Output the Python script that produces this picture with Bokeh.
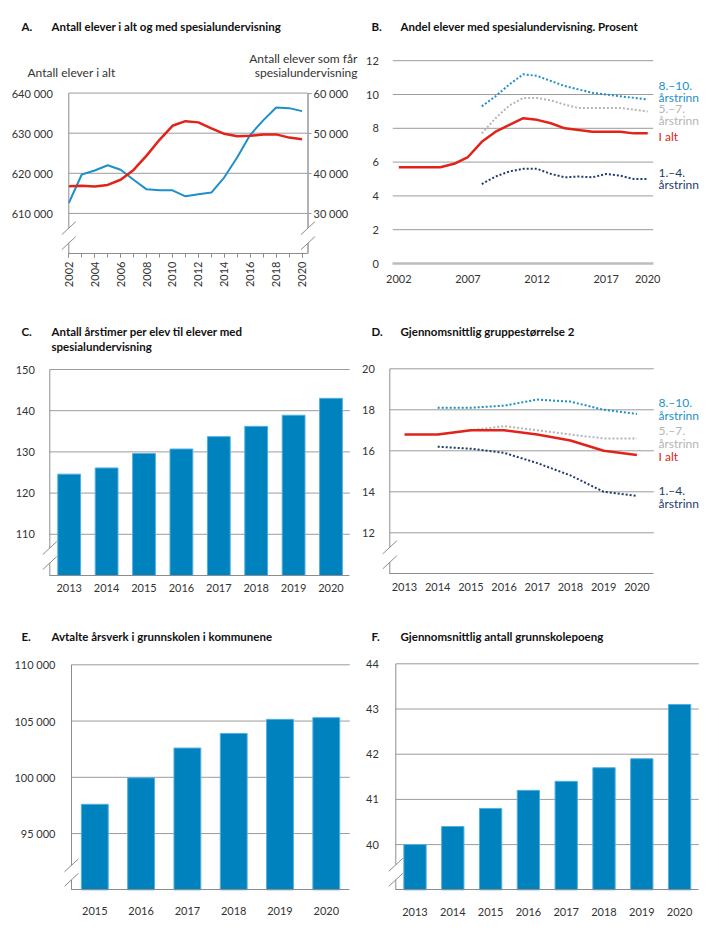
import math
from bokeh.plotting import figure
from bokeh.models import Range1d, LinearAxis, FixedTicker, Label
from bokeh.layouts import column, row
from bokeh.embed import file_html
from bokeh.resources import INLINE

# ---------------- DATA ----------------
# A. Antall elever i alt og med spesialundervisning
years_a = list(range(2002, 2021))
elever_i_alt = [612600, 619700, 620700, 622000, 620900, 618400, 616000, 615750, 615750, 614250,
                614750, 615200, 619000, 624000, 629600, 633200, 636400, 636250, 635500]
elever_spes = [36750, 36900, 36700, 37100, 38400, 40850, 44400, 48350, 51850, 53000,
               52700, 51200, 49850, 49250, 49350, 49700, 49700, 48900, 48500]
a_left_ticks = [610000, 620000, 630000, 640000]
a_left_labels = ["610 000", "620 000", "630 000", "640 000"]
a_right_ticks = [30000, 40000, 50000, 60000]
a_right_labels = ["30 000", "40 000", "50 000", "60 000"]
a_year_labels = list(range(2002, 2021, 2))

# B. Andel elever med spesialundervisning. Prosent
years_b = list(range(2002, 2021))
andel_i_alt = [5.7, 5.7, 5.7, 5.7, 5.9, 6.3, 7.2, 7.8, 8.2, 8.6, 8.5, 8.3, 8.0, 7.9, 7.8, 7.8, 7.8, 7.7, 7.7]
years_b_trinn = list(range(2008, 2021))
andel_8_10 = [9.3, 9.9, 10.6, 11.2, 11.1, 10.8, 10.5, 10.3, 10.1, 10.0, 9.9, 9.8, 9.7]
andel_5_7 = [7.7, 8.6, 9.35, 9.8, 9.8, 9.65, 9.4, 9.2, 9.2, 9.2, 9.2, 9.1, 9.0]
andel_1_4 = [4.7, 5.15, 5.45, 5.6, 5.6, 5.3, 5.1, 5.15, 5.1, 5.3, 5.2, 5.0, 5.0]
b_year_ticks = [2002, 2007, 2012, 2017, 2020]
b_y_ticks = [0, 2, 4, 6, 8, 10, 12]

# C. Antall årstimer per elev til elever med spesialundervisning
years_c = list(range(2013, 2021))
aarstimer = [124.6, 126.1, 129.6, 130.7, 133.7, 136.2, 138.9, 143.0]
c_y_ticks = [110, 120, 130, 140, 150]

# D. Gjennomsnittlig gruppestørrelse 2
years_d = list(range(2013, 2021))
gruppe_i_alt = [16.8, 16.8, 17.0, 17.0, 16.8, 16.5, 16.0, 15.8]
years_d_trinn = list(range(2014, 2021))
gruppe_8_10 = [18.1, 18.1, 18.2, 18.5, 18.4, 18.0, 17.8]
gruppe_5_7 = [16.8, 17.0, 17.2, 17.0, 16.8, 16.6, 16.6]
gruppe_1_4 = [16.2, 16.1, 15.9, 15.4, 14.8, 14.0, 13.8]
d_y_ticks = [12, 14, 16, 18, 20]

# E. Avtalte årsverk i grunnskolen i kommunene
years_e = list(range(2015, 2021))
aarsverk = [97600, 99950, 102600, 103900, 105150, 105300]
e_y_ticks = [95000, 100000, 105000, 110000]
e_y_labels = ["95 000", "100 000", "105 000", "110 000"]

# F. Gjennomsnittlig antall grunnskolepoeng
years_f = list(range(2013, 2021))
poeng = [40.0, 40.4, 40.8, 41.2, 41.4, 41.7, 41.9, 43.1]
f_y_ticks = [40, 41, 42, 43, 44]

# ---------------- STYLE ----------------
FONT = "Lato"
TICK_COLOR = "#333333"
TITLE_COLOR = "#111111"
GRID = "#9c9c9c"
AXIS = "#8c8c8c"
RED = "#e2231a"
BLUE = "#1e8fcb"
GRAY = "#b5b5b5"
NAVY = "#1c3c6c"
BAR = "#0082bf"
BAR_EDGE = "#52b0de"


class Panel:
    def __init__(self, box, xcal, ycal):
        px, py, w, h = box
        self.xv, self.xpx, self.ppx = xcal
        self.yv, self.ypx, self.ppu = ycal
        x0 = self.X(px)
        x1 = self.X(px + w)
        y0 = self.Y(py + h)
        y1 = self.Y(py)
        p = figure(width=w, height=h, x_range=Range1d(x0, x1), y_range=Range1d(y0, y1),
                   min_border=0, output_backend="svg", toolbar_location=None)
        p.outline_line_color = None
        p.background_fill_color = "white"
        p.border_fill_color = "white"
        p.xgrid.visible = False
        p.ygrid.visible = False
        for ax in (p.xaxis[0], p.yaxis[0]):
            ax.major_label_text_font = FONT
            ax.major_label_text_font_size = "11px"
            ax.major_label_text_color = TICK_COLOR
            ax.major_tick_line_color = None
            ax.minor_tick_line_color = None
            ax.axis_line_color = None
        self.p = p

    def X(self, a):
        return self.xv + (a - self.xpx) / self.ppx

    def Y(self, b):
        return self.yv + (self.ypx - b) / self.ppu

    def axes(self, left, right, bottom, yticks, xticks, ylabels=None, ystandoff=9, xstandoff=5):
        p = self.p
        p.yaxis.fixed_location = self.X(left)
        p.yaxis.ticker = FixedTicker(ticks=yticks)
        if ylabels is not None:
            p.yaxis.major_label_overrides = {t: s for t, s in zip(yticks, ylabels)}
        p.yaxis.major_label_standoff = ystandoff
        p.xaxis.fixed_location = self.Y(bottom)
        p.xaxis.ticker = FixedTicker(ticks=xticks)
        p.xaxis.bounds = (self.X(left), self.X(right))
        p.xaxis.axis_line_color = AXIS
        p.xaxis.major_label_standoff = xstandoff

    def gridlines(self, left, right, ticks, color=GRID, width=1):
        n = len(ticks)
        self.p.segment(x0=[self.X(left)] * n, x1=[self.X(right)] * n, y0=ticks, y1=ticks,
                       line_color=color, line_width=width)

    def seg(self, xa, ya, xb, yb, color, width):
        self.p.segment(x0=[self.X(xa)], y0=[self.Y(ya)], x1=[self.X(xb)], y1=[self.Y(yb)],
                       line_color=color, line_width=width)

    def axis_with_break(self, xa, top, bottom, d1, d2, color=AXIS, width=1):
        self.seg(xa, top, xa, bottom - d2 - 6.5, color, width)
        self.seg(xa, bottom - d1 - 6.5, xa, bottom, color, width)
        for d in (d1, d2):
            self.seg(xa - 7, bottom - d, xa + 7, bottom - d - 13, AXIS, 1)

    def txt(self, s, x, y, size=12, color=TICK_COLOR, bold=False, align="left"):
        self.p.add_layout(Label(x=self.X(x), y=self.Y(y), text=s, text_font=FONT,
                                text_font_size=f"{size}px", text_color=color,
                                text_font_style="bold" if bold else "normal",
                                text_align=align, text_baseline="middle"))

    def title(self, letter, lines, xl, xm, y):
        self.txt(letter, xl, y, 11.5, TITLE_COLOR, True)
        for i, s in enumerate(lines):
            self.txt(s, xm, y + 15 * i, 11.5, TITLE_COLOR, True)


# ---------------- PANEL A ----------------
A = Panel((0, 0, 360, 305), (2002, 68.3, 12.96), (640000, 92.6, 40.1 / 10000))
pA = A.p
A.axes(68.3, 307, 253.1, a_left_ticks, a_year_labels, a_left_labels, ystandoff=10, xstandoff=4)
pA.xaxis.ticker = FixedTicker(ticks=a_year_labels, minor_ticks=years_a)
pA.xaxis.major_label_orientation = math.pi / 2
pA.xaxis.major_tick_line_color = AXIS
pA.xaxis.minor_tick_line_color = AXIS
pA.xaxis.major_tick_out = 4
pA.xaxis.major_tick_in = 0
pA.xaxis.minor_tick_out = 4
pA.xaxis.minor_tick_in = 0
r_top = 60000 + 92.6 / A.ppu
pA.extra_y_ranges = {"r": Range1d(r_top - 305 / A.ppu, r_top)}
rax = LinearAxis(y_range_name="r", ticker=FixedTicker(ticks=a_right_ticks),
                 major_label_overrides={t: s for t, s in zip(a_right_ticks, a_right_labels)},
                 major_label_text_font=FONT, major_label_text_font_size="11px",
                 major_label_text_color=TICK_COLOR, axis_line_color=None,
                 major_tick_line_color=GRID, major_tick_out=4, major_tick_in=0,
                 minor_tick_line_color=None, major_label_standoff=2, fixed_location=A.X(307))
pA.add_layout(rax, "right")
A.gridlines(68.3, 307, a_left_ticks)
pA.line(years_a, elever_i_alt, line_color=BLUE, line_width=2)
pA.line(years_a, elever_spes, line_color=RED, line_width=2.5, y_range_name="r")
A.axis_with_break(68.3, 92.6, 253.1, 4, 19)
A.axis_with_break(307.5, 92.6, 253.1, 4, 19, "#b3b3b3", 2)
A.title("A.", ["Antall elever i alt og med spesialundervisning"], 21, 51, 26)
A.txt("Antall elever i alt", 27, 72, 12)
A.txt("Antall elever som får", 357, 58, 12, align="right")
A.txt("spesialundervisning", 357, 72, 12, align="right")

# ---------------- PANEL B ----------------
B = Panel((360, 0, 358, 305), (2002, 398.3, 13.83), (0, 263, 16.9))
pB = B.p
B.axes(392.3, 652.7, 263, b_y_ticks, b_year_ticks, ystandoff=8, xstandoff=5)
pB.xaxis.axis_line_color = "#bdbdbd"
pB.xaxis.axis_line_width = 2.5
B.gridlines(392.3, 652.7, b_y_ticks[1:])
pB.line(years_b_trinn, andel_8_10, line_color=BLUE, line_width=2, line_dash="2 2")
pB.line(years_b_trinn, andel_5_7, line_color=GRAY, line_width=2, line_dash="2 2")
pB.line(years_b_trinn, andel_1_4, line_color=NAVY, line_width=2, line_dash="2 2")
pB.line(years_b, andel_i_alt, line_color=RED, line_width=2.5)
B.title("B.", ["Andel elever med spesialundervisning. Prosent"], 371, 400, 26)
B.txt("8.–10.", 658, 85, 12, BLUE)
B.txt("årstrinn", 658, 97, 12, BLUE)
B.txt("5.–7.", 658, 108, 12, GRAY)
B.txt("årstrinn", 658, 120, 12, GRAY)
B.txt("I alt", 658, 136, 12, RED)
B.txt("1.–4.", 658, 171.5, 12, NAVY)
B.txt("årstrinn", 658, 183.5, 12, NAVY)

# ---------------- PANEL C ----------------
C = Panel((0, 305, 360, 305), (2013, 68.7, 37.4), (100, 575, 4.12))
pC = C.p
C.axes(49.3, 349.3, 575, c_y_ticks, years_c, ystandoff=9, xstandoff=2)
C.gridlines(49.3, 349.3, c_y_ticks)
pC.vbar(x=years_c, top=aarstimer, bottom=100, width=0.61, fill_color=BAR, line_color=BAR_EDGE, line_width=1)
C.axis_with_break(49.3, 369, 575, 6, 21)
C.title("C.", ["Antall årstimer per elev til elever med", "spesialundervisning"], 21, 51, 330.7)

# ---------------- PANEL D ----------------
D = Panel((360, 305, 358, 305), (2013, 404, 33.2), (10, 573.3, 20.5))
pD = D.p
D.axes(389.3, 653.3, 573.3, d_y_ticks, years_d, ystandoff=9, xstandoff=3)
D.gridlines(389.3, 653.3, d_y_ticks)
pD.line(years_d_trinn, gruppe_8_10, line_color=BLUE, line_width=2, line_dash="2 2")
pD.line(years_d_trinn, gruppe_5_7, line_color=GRAY, line_width=2, line_dash="2 2")
pD.line(years_d_trinn, gruppe_1_4, line_color=NAVY, line_width=2, line_dash="2 2")
pD.line(years_d, gruppe_i_alt, line_color=RED, line_width=2.5)
D.axis_with_break(389.3, 368.3, 573.3, 5, 20)
D.title("D.", ["Gjennomsnittlig gruppestørrelse 2"], 371, 400, 330.7)
D.txt("8.–10.", 658, 401.7, 12, BLUE)
D.txt("årstrinn", 658, 415, 12, BLUE)
D.txt("5.–7.", 658, 429.7, 12, GRAY)
D.txt("årstrinn", 658, 442.7, 12, GRAY)
D.txt("I alt", 658, 456, 12, RED)
D.txt("1.–4.", 658, 490, 12, NAVY)
D.txt("årstrinn", 658, 502.7, 12, NAVY)

# ---------------- PANEL E ----------------
E = Panel((0, 610, 360, 322), (2015, 94.3, 46.3), (90000, 889.3, 11.25 / 1000))
pE = E.p
E.axes(71, 349.3, 889.3, e_y_ticks, years_e, e_y_labels, ystandoff=10, xstandoff=11)
E.gridlines(71, 349.3, e_y_ticks)
pE.vbar(x=years_e, top=aarsverk, bottom=90000, width=0.58, fill_color=BAR, line_color=BAR_EDGE, line_width=1)
E.axis_with_break(71, 664.3, 889.3, 3.5, 18)
E.title("E.", ["Avtalte årsverk i grunnskolen i kommunene"], 21, 51, 635.7)

# ---------------- PANEL F ----------------
F = Panel((360, 610, 358, 322), (2013, 414.5, 37.8), (39, 889.3, 45.2))
pF = F.p
F.axes(395.3, 698.3, 889.3, f_y_ticks, years_f, ystandoff=11, xstandoff=12)
F.gridlines(395.3, 698.3, f_y_ticks)
pF.vbar(x=years_f, top=poeng, bottom=39, width=0.59, fill_color=BAR, line_color=BAR_EDGE, line_width=1)
F.axis_with_break(395.3, 663.3, 889.3, 3.5, 18.5)
F.title("F.", ["Gjennomsnittlig antall grunnskolepoeng"], 371, 400, 635.7)

layout = column(row(pA, pB), row(pC, pD), row(pE, pF))
open("out.html", "w").write(file_html(layout, INLINE, "Figur"))
